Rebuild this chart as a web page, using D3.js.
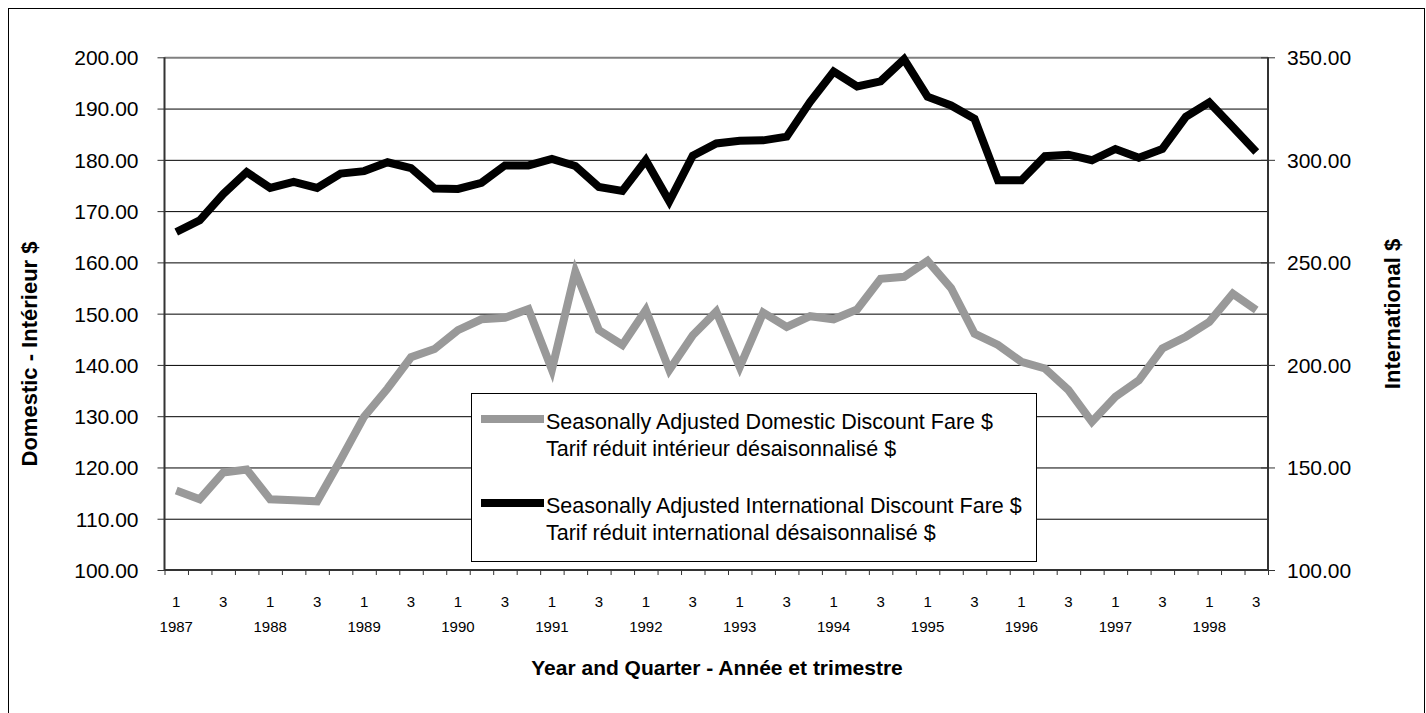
<!DOCTYPE html>
<html>
<head>
<meta charset="utf-8">
<script src="https://cdn.jsdelivr.net/npm/d3@7"></script>
<style>
  html, body { margin: 0; padding: 0; background: #fff; }
  svg { display: block; }
  text { font-family: "Liberation Sans", Arial, sans-serif; fill: #000; }
</style>
</head>
<body>
<svg id="chart" width="1426" height="713"></svg>
<script>
// ---- Data ----
const categories = [
  "1987-1","1987-2","1987-3","1987-4",
  "1988-1","1988-2","1988-3","1988-4",
  "1989-1","1989-2","1989-3","1989-4",
  "1990-1","1990-2","1990-3","1990-4",
  "1991-1","1991-2","1991-3","1991-4",
  "1992-1","1992-2","1992-3","1992-4",
  "1993-1","1993-2","1993-3","1993-4",
  "1994-1","1994-2","1994-3","1994-4",
  "1995-1","1995-2","1995-3","1995-4",
  "1996-1","1996-2","1996-3","1996-4",
  "1997-1","1997-2","1997-3","1997-4",
  "1998-1","1998-2","1998-3"
];
// Domestic (left axis)
const domestic = [
  115.5,113.8,119.0,119.6,
  113.8,113.6,113.4,121.5,
  129.9,135.4,141.5,143.1,
  146.8,148.9,149.2,150.9,
  139.1,158.2,146.8,143.9,
  150.7,139.0,145.8,150.4,
  139.6,150.2,147.4,149.5,
  148.9,150.8,156.8,157.2,
  160.3,155.0,146.1,143.9,
  140.6,139.3,135.1,128.9,
  133.8,137.0,143.2,145.5,
  148.4,153.9,150.7
];
// International (right axis)
const international = [
  264.8,270.5,283.3,294.0,
  286.3,289.3,286.3,293.3,
  294.5,298.8,296.0,286.0,
  285.8,288.8,297.3,297.3,
  300.5,297.0,286.8,284.8,
  299.8,279.8,302.0,308.0,
  309.3,309.5,311.3,328.3,
  343.0,335.8,338.3,349.0,
  330.8,326.5,320.0,290.0,
  290.0,301.8,302.5,299.8,
  305.3,301.0,305.3,321.0,
  328.0,316.0,303.8
];
const leftTicks = [100,110,120,130,140,150,160,170,180,190,200];
const rightTicks = [100,150,200,250,300,350];
const seriesNames = [
  ["Seasonally Adjusted Domestic Discount Fare $", "Tarif réduit intérieur désaisonnalisé $"],
  ["Seasonally Adjusted International Discount Fare $", "Tarif réduit international désaisonnalisé $"]
];
const leftTitle = "Domestic - Intérieur $";
const rightTitle = "International $";
const xTitle = "Year and Quarter - Année et trimestre";

// ---- Layout ----
const svg = d3.select("#chart");
const L = 164.5, R = 1268, T = 57.3, B = 570;

svg.append("rect").attr("x", 8.5).attr("y", 8.5).attr("width", 1416).attr("height", 720)
  .attr("fill", "none").attr("stroke", "#000").attr("stroke-width", 1);

const x = d3.scaleLinear().domain([0, categories.length]).range([L, R]);
const yL = d3.scaleLinear().domain([100, 200]).range([B, T]);
const yR = d3.scaleLinear().domain([100, 350]).range([B, T]);

// gridlines
const grid = svg.append("g").attr("transform", `translate(${L},0)`)
  .call(d3.axisLeft(yL).tickValues(leftTicks).tickSize(-(R - L)).tickFormat(""));
grid.select(".domain").remove();
grid.selectAll(".tick line").attr("stroke", "#000").attr("stroke-width", 1);
grid.selectAll(".tick").filter(d => d === 200).select("line").attr("stroke", "#808080").attr("stroke-width", 2);

// left axis
const gl = svg.append("g").attr("transform", `translate(${L},0)`)
  .call(d3.axisLeft(yL).tickValues(leftTicks).tickSize(7).tickPadding(19).tickFormat(d3.format(".2f")));
gl.select(".domain").attr("stroke", "#333").attr("stroke-width", 2).attr("d", `M0,${T}V${B}`);
gl.selectAll(".tick line").attr("stroke", "#333");
gl.selectAll(".tick text").style("font-size", "21px").attr("dy", "0.35em");

// right axis
const gr = svg.append("g").attr("transform", `translate(${R},0)`)
  .call(d3.axisRight(yR).tickValues(rightTicks).tickSize(7).tickPadding(12).tickFormat(d3.format(".2f")));
gr.select(".domain").attr("stroke", "#333").attr("stroke-width", 2).attr("d", `M0,${T}V${B}`);
gr.selectAll(".tick line").attr("stroke", "#333").attr("x1", -7);
gr.selectAll(".tick text").style("font-size", "21px").attr("dy", "0.35em");

// bottom axis (ticks between categories)
const gb = svg.append("g").attr("transform", `translate(0,${B})`)
  .call(d3.axisBottom(x).tickValues(d3.range(categories.length + 1)).tickSize(5).tickFormat(""));
gb.select(".domain").attr("stroke", "#333").attr("stroke-width", 2).attr("d", `M${L},0H${R}`);
gb.selectAll(".tick line").attr("stroke", "#333");

// category labels
const labG = svg.append("g");
categories.forEach((c, i) => {
  const [yr, q] = c.split("-");
  if (q === "1" || q === "3") {
    labG.append("text").attr("x", x(i + 0.5)).attr("y", 607)
      .attr("text-anchor", "middle").style("font-size", "15px").text(q);
  }
  if (q === "1") {
    labG.append("text").attr("x", x(i + 0.5)).attr("y", 632)
      .attr("text-anchor", "middle").style("font-size", "15px").text(yr);
  }
});

// lines
const lineD = d3.line().x((d, i) => x(i + 0.5)).y(d => yL(d));
const lineI = d3.line().x((d, i) => x(i + 0.5)).y(d => yR(d));
svg.append("path").datum(domestic).attr("d", lineD)
  .attr("fill", "none").attr("stroke", "#999999").attr("stroke-width", 8).attr("stroke-linejoin", "miter");
svg.append("path").datum(international).attr("d", lineI)
  .attr("fill", "none").attr("stroke", "#000").attr("stroke-width", 8).attr("stroke-linejoin", "miter");

// legend
const lg = svg.append("g");
lg.append("rect").attr("x", 471.5).attr("y", 393.5).attr("width", 565).attr("height", 168)
  .attr("fill", "#fff").attr("stroke", "#000").attr("stroke-width", 1);
const legItems = [
  { color: "#999999", y: 419, names: seriesNames[0] },
  { color: "#000", y: 503, names: seriesNames[1] }
];
legItems.forEach(it => {
  lg.append("line").attr("x1", 481).attr("x2", 544).attr("y1", it.y).attr("y2", it.y)
    .attr("stroke", it.color).attr("stroke-width", 8);
  lg.append("text").attr("x", 546).attr("y", it.y + 10).style("font-size", "21.5px").text(it.names[0]);
  lg.append("text").attr("x", 546).attr("y", it.y + 37).style("font-size", "21.5px").text(it.names[1]);
});

// axis titles
svg.append("text").attr("transform", "translate(37,354) rotate(-90)")
  .attr("text-anchor", "middle").style("font-size", "22px").style("font-weight", "bold").text(leftTitle);
svg.append("text").attr("transform", "translate(1400,314) rotate(-90)")
  .attr("text-anchor", "middle").style("font-size", "22px").style("font-weight", "bold").text(rightTitle);
svg.append("text").attr("x", 717).attr("y", 675)
  .attr("text-anchor", "middle").style("font-size", "21px").style("font-weight", "bold").text(xTitle);
</script>
</body>
</html>
